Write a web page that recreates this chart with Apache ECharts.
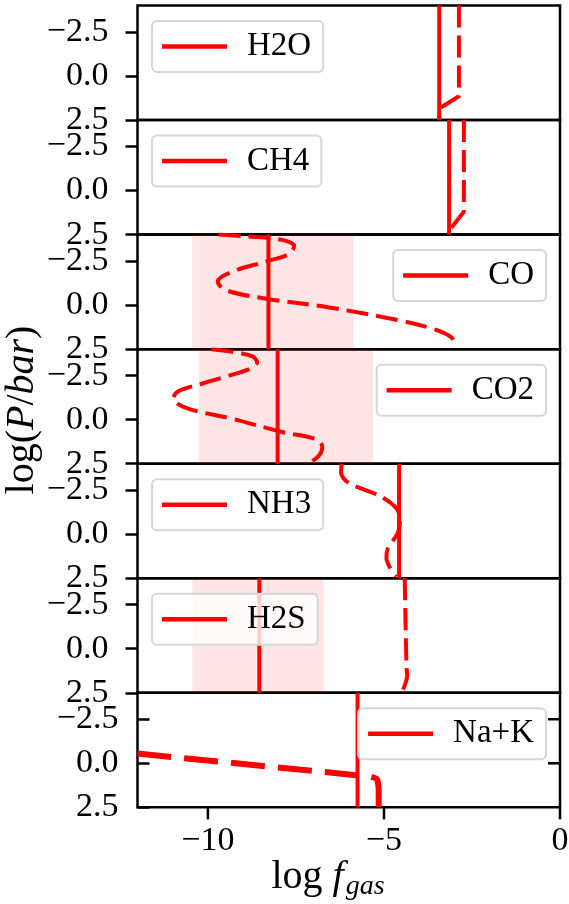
<!DOCTYPE html>
<html>
<head>
<meta charset="utf-8">
<script src="https://cdn.jsdelivr.net/npm/echarts@6/dist/echarts.min.js"></script>
<style>
html, body { margin: 0; padding: 0; background: #fff; }
#chart { width: 569px; height: 904px; }
</style>
</head>
<body>
<div id="chart"></div>
<script>
// One panel per species, top to bottom
const species = ['H2O', 'CH4', 'CO', 'CO2', 'NH3', 'H2S', 'Na+K'];
// Retrieved constant log abundance (solid lines)
const retrievedLogF = [-3.43, -3.15, -8.28, -8.02, -4.57, -8.54, -5.75];
// Shaded confidence band per species (null = no band)
const bandLow  = [null, null, -10.45, -10.26, null, -10.44, null];
const bandHigh = [null, null, -5.86, -5.31, null, -6.71, null];

// Model abundance profiles (dashed lines): log f_gas against log P
const h2oProfileF = [-2.87, -2.87, -3.43, -3.43];
const h2oProfileP = [-4.0, 1.15, 1.85, 2.5];

const ch4ProfileF = [-2.73, -2.73, -3.12, -3.15];
const ch4ProfileP = [-4.0, 1.2, 2.2, 2.5];

const coProfileF = [-9.7, -8.9, -7.9, -7.55, -7.7, -8.3, -9.3, -9.72, -9.5, -8.3, -6.6, -4.6, -3.6, -3.1, -2.95];
const coProfileP = [-4.0, -3.9, -3.7, -3.35, -2.9, -2.5, -1.9, -1.35, -0.85, -0.35, 0.12, 0.85, 1.35, 1.8, 2.3];

const co2ProfileF = [-9.9, -9.3, -8.75, -8.6, -8.85, -9.4, -10.15, -10.85, -10.98, -10.6, -9.3, -7.9, -6.95, -6.75, -6.85, -7.15];
const co2ProfileP = [-4.0, -3.85, -3.6, -3.25, -2.85, -2.5, -2.05, -1.6, -1.2, -0.65, -0.05, 0.7, 1.1, 1.55, 2.05, 2.5];

const nh3ProfileF = [-6.2, -6.22, -6.0, -5.1, -4.62, -4.55, -4.62, -4.88, -4.93, -4.83, -4.65];
const nh3ProfileP = [-4.0, -3.5, -2.9, -2.15, -1.4, -0.6, 0.0, 0.75, 1.35, 1.9, 2.4];

const h2sProfileF = [-4.41, -4.36, -4.34, -4.38, -4.46, -4.48];
const h2sProfileP = [-4.0, 1.0, 1.55, 1.9, 2.35, 2.5];

const nakProfileF = [-12.0, -5.86, -5.4, -5.2, -5.15, -5.15];
const nakProfileP = [-0.55, 0.66, 0.75, 0.9, 1.5, 2.5];

const profilesF = [h2oProfileF, ch4ProfileF, coProfileF, co2ProfileF, nh3ProfileF, h2sProfileF, nakProfileF];
const profilesP = [h2oProfileP, ch4ProfileP, coProfileP, co2ProfileP, nh3ProfileP, h2sProfileP, nakProfileP];
const profileSmooth = [false, false, 0.35, 0.35, 0.3, 0.3, 0.2];

// Axes
const logPRange = [-4, 2.5];
const logPTicks = [-2.5, 0, 2.5];
const logFRange = [-12, 0];
const logFTicks = [-10, -5, 0];

// Layout
const FONT = '"Liberation Serif", "DejaVu Serif", serif';
const RED = '#ff0000';
const gridLeft = 137.5, gridRightEdge = 560, gridTop = 5.5, panelH = 114.55;
const nPanels = species.length;
const tickLen = 12;

const minus = v => (v < 0 ? '\u2212' : '');
const fmtP = v => minus(v) + Math.abs(v).toFixed(1);
const fmtF = v => minus(v) + Math.abs(v);

const blackLine = { color: '#000', width: 2.5 };
const grids = [], xAxes = [], yAxes = [], series = [], legends = [];

for (let i = 0; i < nPanels; i++) {
  const last = i === nPanels - 1;
  grids.push({
    left: gridLeft, width: gridRightEdge - gridLeft,
    top: gridTop + i * panelH, height: panelH,
    show: true, borderColor: '#000', borderWidth: 2.5, backgroundColor: 'transparent',
    containLabel: false, outerBoundsMode: 'none'
  });

  xAxes.push({
    type: 'value', gridIndex: i, min: logFRange[0], max: logFRange[1],
    position: 'bottom',
    show: last,
    axisLine: { show: false, onZero: false },
    splitLine: { show: false },
    axisTick: { show: false },
    axisLabel: {
      show: last, customValues: logFTicks, formatter: fmtF, margin: 17,
      fontFamily: FONT, fontSize: 34, color: '#000'
    }
  });

  yAxes.push({
    type: 'value', gridIndex: i, inverse: true, min: logPRange[0], max: logPRange[1],
    position: 'left',
    axisLine: { show: false, onZero: false },
    splitLine: { show: false },
    axisTick: { show: true, inside: last, customValues: logPTicks, length: tickLen, lineStyle: blackLine },
    axisLabel: {
      show: true, customValues: logPTicks, formatter: fmtP, margin: last ? 19 : 29,
      fontFamily: FONT, fontSize: 34, color: '#000'
    }
  });

  // solid retrieved abundance, with optional band
  const solid = {
    name: species[i], type: 'line', xAxisIndex: i, yAxisIndex: i,
    data: [[retrievedLogF[i], logPRange[0]], [retrievedLogF[i], logPRange[1]]],
    symbol: 'none', color: RED,
    lineStyle: { color: RED, width: 4, cap: 'butt' },
    z: 3, silent: true
  };
  if (bandLow[i] !== null) {
    solid.markArea = {
      silent: true,
      itemStyle: { color: 'rgba(255,0,0,0.1)' },
      data: [[{ xAxis: bandLow[i] }, { xAxis: bandHigh[i] }]]
    };
  }
  series.push(solid);

  // dashed model profile
  const pts = profilesF[i].map((f, k) => [f, profilesP[i][k]]);
  const w = last ? 6 : 4;
  series.push({
    name: species[i] + ' profile', type: 'line', xAxisIndex: i, yAxisIndex: i,
    data: pts, symbol: 'none', color: RED, smooth: profileSmooth[i],
    lineStyle: { color: RED, width: w, type: last ? [34, 13] : [22, 8], cap: 'butt' },
    z: 3, silent: true
  });

  const onRight = (i === 2 || i === 3 || i === 6);
  const lg = {
    top: gridTop + i * panelH + 15.5,
    data: [species[i]], icon: 'rect', itemWidth: 65, itemHeight: 4.5,
    padding: [9, 12, 9, 10], borderColor: '#d6d6d6', borderWidth: 2, borderRadius: 5,
    backgroundColor: 'rgba(255,255,255,0.8)', selectedMode: false,
    itemStyle: { color: RED, borderWidth: 0 },
    textStyle: { fontFamily: FONT, fontSize: 33, color: '#000', lineHeight: 33, padding: [0, 0, 0, 15] }
  };
  if (onRight) lg.right = 569 - 546; else lg.left = 152;
  legends.push(lg);
}

// x-axis title: log f_gas with subscript
const ctx = document.createElement('canvas').getContext('2d');
ctx.font = '40px "Liberation Serif"';
const wLog = ctx.measureText('log ').width;
ctx.font = 'italic 40px "Liberation Serif"';
const wF = ctx.measureText('f').width;
ctx.font = 'italic 28px "Liberation Serif"';
const wGas = ctx.measureText('gas').width;
const titleCenter = 328;
const xStart = titleCenter - (wLog + wF + 2 + wGas) / 2;
const titleY = 877;

const textStyle = (text, font) => ({
  text: text, font: font, fill: '#000',
  align: 'left', verticalAlign: 'middle', textAlign: 'left', textVerticalAlign: 'middle'
});

const graphic = [
  { type: 'text', x: xStart, y: titleY, silent: true, style: textStyle('log ', '40px ' + FONT) },
  { type: 'text', x: xStart + wLog, y: titleY, silent: true, style: textStyle('f', 'italic 40px ' + FONT) },
  { type: 'text', x: xStart + wLog + wF + 2, y: titleY + 10, silent: true, style: textStyle('gas', 'italic 28px ' + FONT) },
  {
    type: 'text', x: 22, y: 410, rotation: Math.PI / 2, silent: true,
    style: {
      text: '{n|log(}{i|P}{n|/}{i|bar}{n|)}',
      align: 'center', verticalAlign: 'middle', textAlign: 'center', textVerticalAlign: 'middle',
      fill: '#000',
      rich: {
        n: { fontFamily: FONT, fontSize: 40, fontStyle: 'normal', fill: '#000', color: '#000' },
        i: { fontFamily: FONT, fontSize: 40, fontStyle: 'italic', fill: '#000', color: '#000' }
      }
    }
  }
];

const chart = echarts.init(document.getElementById('chart'), null, { renderer: 'canvas' });
chart.setOption({
  animation: false,
  backgroundColor: '#fff',
  grid: grids,
  xAxis: xAxes,
  yAxis: yAxes,
  legend: legends,
  series: series,
  graphic: graphic
});

// Bottom panel: outward x ticks and inward ticks on the right edge,
// placed through the panel's own axis scales.
const bottom = nPanels - 1;
const finder = { xAxisIndex: bottom, yAxisIndex: bottom };
const tickShape = (x1, y1, x2, y2) => ({
  type: 'line', silent: true, z: 10,
  shape: { x1: x1, y1: y1, x2: x2, y2: y2 },
  style: { stroke: '#000', lineWidth: 2.5 }
});
const extraTicks = [];
logFTicks.forEach(v => {
  const p = chart.convertToPixel(finder, [v, logPRange[1]]);
  extraTicks.push(tickShape(p[0], p[1], p[0], p[1] + tickLen));
});
logPTicks.filter(v => v < logPRange[1]).forEach(v => {
  const p = chart.convertToPixel(finder, [logFRange[1], v]);
  extraTicks.push(tickShape(p[0] - tickLen, p[1], p[0], p[1]));
});
chart.setOption({ graphic: graphic.concat(extraTicks) });
</script>
</body>
</html>
